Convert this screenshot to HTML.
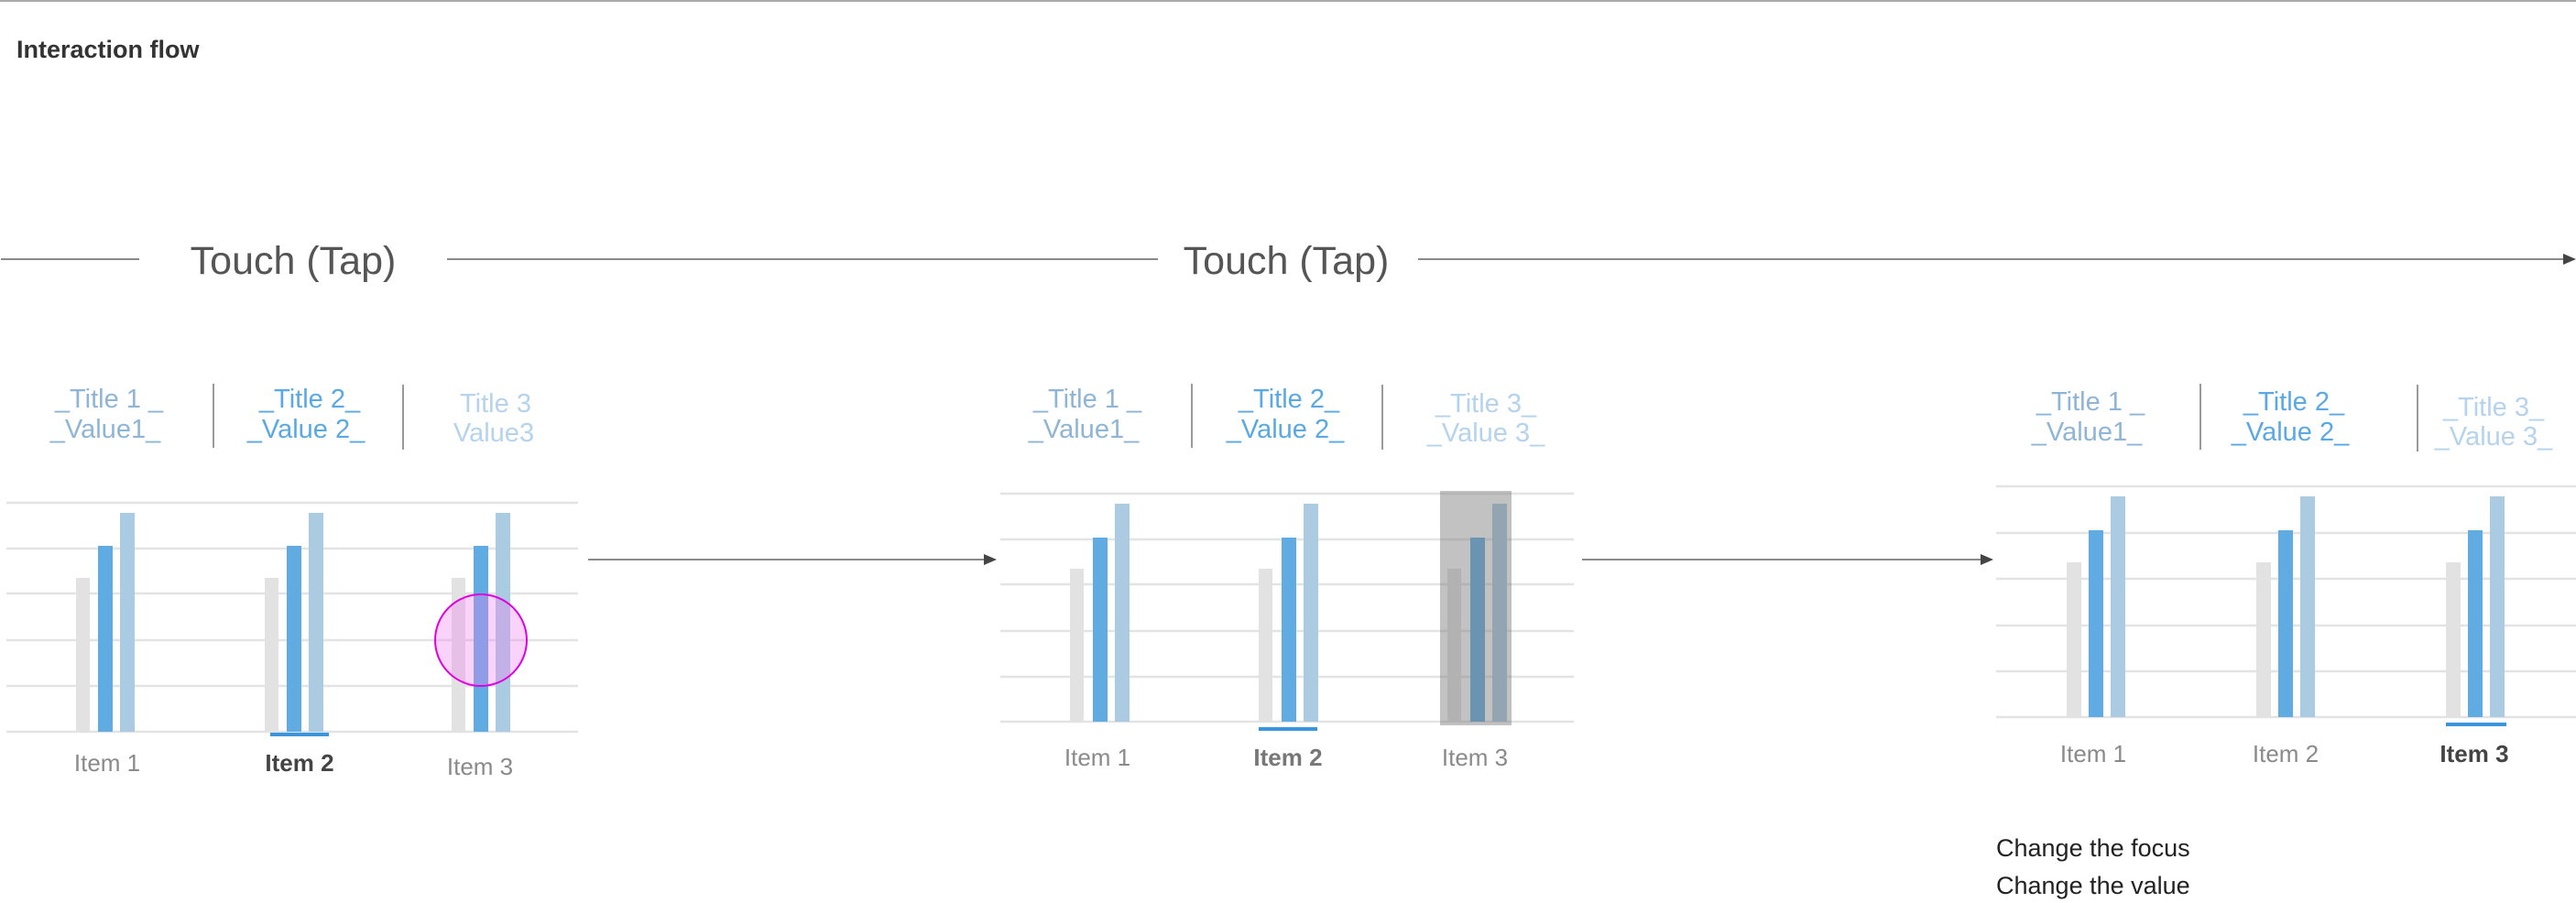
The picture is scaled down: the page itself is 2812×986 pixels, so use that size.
<!DOCTYPE html>
<html><head><meta charset="utf-8"><style>
html,body{margin:0;padding:0;background:#fff;}
svg{display:block;}
text{font-family:"Liberation Sans",sans-serif;}
.t{font-size:29px;text-anchor:middle;}
.c1{fill:#8fb5d6}.c2{fill:#5aa8e4}.c3{fill:#b5d3ec}
.it{font-size:26px;fill:#8a8a8a;text-anchor:middle;}
.itb{font-size:26px;font-weight:bold;fill:#444;text-anchor:middle;}
.g{stroke:#e3e3e3;stroke-width:2.5;}
.sep{stroke:#9a9a9a;stroke-width:2;}
</style></head><body>
<svg width="2812" height="986" viewBox="0 0 2812 986" xmlns="http://www.w3.org/2000/svg">
<line x1="0" y1="1" x2="2812" y2="1" stroke="#aaa" stroke-width="2"/>
<text x="18" y="63" font-size="27" font-weight="bold" fill="#333" style="font-weight:600">Interaction flow</text>

<!-- top flow line -->
<g stroke="#8a8a8a" stroke-width="2">
<line x1="1" y1="283" x2="152" y2="283"/>
<line x1="488" y1="283" x2="1264" y2="283"/>
<line x1="1548" y1="283" x2="2800" y2="283"/>
</g>
<polygon points="2812,283 2798,277 2798,289" fill="#444"/>
<text x="320" y="299" font-size="43" fill="#555" text-anchor="middle">Touch (Tap)</text>
<text x="1404" y="299" font-size="43" fill="#555" text-anchor="middle">Touch (Tap)</text>

<!-- arrows -->
<line x1="642" y1="611" x2="1076" y2="611" stroke="#8a8a8a" stroke-width="2"/>
<polygon points="1088,611 1074,605 1074,617" fill="#444"/>
<line x1="1727" y1="611" x2="2164" y2="611" stroke="#8a8a8a" stroke-width="2"/>
<polygon points="2176,611 2162,605 2162,617" fill="#444"/>

<!-- CHART 1 -->
<g>
<text class="t c1" x="119" y="445">_Title 1 _</text>
<text class="t c1" x="115" y="478">_Value1_</text>
<text class="t c2" x="338" y="445">_Title 2_</text>
<text class="t c2" x="334" y="478">_Value 2_</text>
<text class="t c3" x="541" y="450">Title 3</text>
<text class="t c3" x="539" y="482">Value3</text>
<line class="sep" x1="233" y1="419" x2="233" y2="489"/>
<line class="sep" x1="440" y1="420" x2="440" y2="491"/>
<line class="g" x1="7" y1="549" x2="631" y2="549"/>
<line class="g" x1="7" y1="599" x2="631" y2="599"/>
<line class="g" x1="7" y1="648" x2="631" y2="648"/>
<line class="g" x1="7" y1="699" x2="631" y2="699"/>
<line class="g" x1="7" y1="749" x2="631" y2="749"/>
<line class="g" x1="7" y1="799" x2="631" y2="799"/>
<g>
<rect x="83" y="631" width="15" height="168" fill="#e2e2e2"/><rect x="107" y="596" width="16" height="203" fill="#60abe2"/><rect x="131" y="560" width="16" height="239" fill="#abcbe2"/>
<rect x="289" y="631" width="15" height="168" fill="#e2e2e2"/><rect x="313" y="596" width="16" height="203" fill="#60abe2"/><rect x="337" y="560" width="16" height="239" fill="#abcbe2"/>
<rect x="493" y="631" width="15" height="168" fill="#e2e2e2"/><rect x="517" y="596" width="16" height="203" fill="#60abe2"/><rect x="541" y="560" width="16" height="239" fill="#abcbe2"/>
</g>
<rect x="295" y="800" width="64" height="4" fill="#3a95dc"/>
<circle cx="525" cy="699" r="50" fill="rgba(238,130,238,0.35)" stroke="#e000e0" stroke-width="2"/>
<text class="it" x="117" y="842">Item 1</text>
<text class="itb" x="327" y="842">Item 2</text>
<text class="it" x="524" y="846">Item 3</text>
</g>

<!-- CHART 2 -->
<g>
<text class="t c1" x="1187" y="445">_Title 1 _</text>
<text class="t c1" x="1183" y="478">_Value1_</text>
<text class="t c2" x="1407" y="445">_Title 2_</text>
<text class="t c2" x="1403" y="478">_Value 2_</text>
<text class="t c3" x="1622" y="450">_Title 3_</text>
<text class="t c3" x="1622" y="482">_Value 3_</text>
<line class="sep" x1="1301" y1="419" x2="1301" y2="489"/>
<line class="sep" x1="1509" y1="420" x2="1509" y2="491"/>
<line class="g" x1="1092" y1="539" x2="1718" y2="539"/>
<line class="g" x1="1092" y1="589" x2="1718" y2="589"/>
<line class="g" x1="1092" y1="638" x2="1718" y2="638"/>
<line class="g" x1="1092" y1="689" x2="1718" y2="689"/>
<line class="g" x1="1092" y1="739" x2="1718" y2="739"/>
<line class="g" x1="1092" y1="788" x2="1718" y2="788"/>
<rect x="1168" y="621" width="15" height="167" fill="#e2e2e2"/><rect x="1193" y="587" width="16" height="201" fill="#60abe2"/><rect x="1217" y="550" width="16" height="238" fill="#abcbe2"/>
<rect x="1374" y="621" width="15" height="167" fill="#e2e2e2"/><rect x="1399" y="587" width="16" height="201" fill="#60abe2"/><rect x="1423" y="550" width="16" height="238" fill="#abcbe2"/>
<rect x="1580" y="621" width="15" height="167" fill="#e2e2e2"/><rect x="1605" y="587" width="16" height="201" fill="#60abe2"/><rect x="1629" y="550" width="16" height="238" fill="#abcbe2"/>
<rect x="1572" y="536" width="78" height="256" fill="rgba(120,120,120,0.45)"/>
<rect x="1374" y="794" width="64" height="4" fill="#3a95dc"/>
<text class="it" x="1198" y="836">Item 1</text>
<text class="itb" x="1406" y="836" style="fill:#777">Item 2</text>
<text class="it" x="1610" y="836">Item 3</text>
</g>

<!-- CHART 3 -->
<g>
<text class="t c1" x="2282" y="448">_Title 1 _</text>
<text class="t c1" x="2278" y="481">_Value1_</text>
<text class="t c2" x="2504" y="448">_Title 2_</text>
<text class="t c2" x="2500" y="481">_Value 2_</text>
<text class="t c3" x="2722" y="454">_Title 3_</text>
<text class="t c3" x="2722" y="486">_Value 3_</text>
<line class="sep" x1="2402" y1="419" x2="2402" y2="491"/>
<line class="sep" x1="2639" y1="420" x2="2639" y2="493"/>
<line class="g" x1="2179" y1="531" x2="2812" y2="531"/>
<line class="g" x1="2179" y1="582" x2="2812" y2="582"/>
<line class="g" x1="2179" y1="632" x2="2812" y2="632"/>
<line class="g" x1="2179" y1="683" x2="2812" y2="683"/>
<line class="g" x1="2179" y1="733" x2="2812" y2="733"/>
<line class="g" x1="2179" y1="783" x2="2812" y2="783"/>
<rect x="2256" y="614" width="16" height="169" fill="#e2e2e2"/><rect x="2280" y="579" width="16" height="204" fill="#60abe2"/><rect x="2304" y="542" width="16" height="241" fill="#abcbe2"/>
<rect x="2463" y="614" width="16" height="169" fill="#e2e2e2"/><rect x="2487" y="579" width="16" height="204" fill="#60abe2"/><rect x="2511" y="542" width="16" height="241" fill="#abcbe2"/>
<rect x="2670" y="614" width="16" height="169" fill="#e2e2e2"/><rect x="2694" y="579" width="16" height="204" fill="#60abe2"/><rect x="2718" y="542" width="16" height="241" fill="#abcbe2"/>
<rect x="2670" y="789" width="66" height="4" fill="#3a95dc"/>
<text class="it" x="2285" y="832">Item 1</text>
<text class="it" x="2495" y="832">Item 2</text>
<text class="itb" x="2701" y="832">Item 3</text>
<text x="2179" y="935" font-size="27" fill="#222">Change the focus</text>
<text x="2179" y="976" font-size="27" fill="#222">Change the value</text>
</g>
</svg>
</body></html>
